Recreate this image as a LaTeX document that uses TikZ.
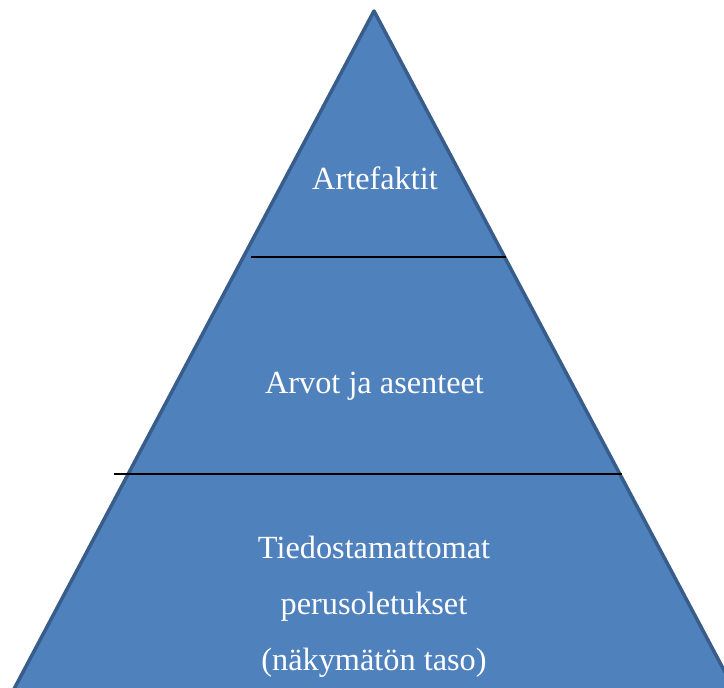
\documentclass[tikz,border=0pt]{standalone}
\usepackage{fontspec}
\setmainfont{Liberation Serif}
\definecolor{layerfill}{HTML}{4F81BD}
\definecolor{layeredge}{HTML}{385D8A}
\tikzset{
  layertext/.style={text=white, font=\fontsize{32.3}{38}\selectfont, anchor=base, inner sep=0pt},
  divider/.style={draw=black, line width=1.6pt}
}
\begin{document}
\begin{tikzpicture}[x=1pt, y=-1pt]
  \useasboundingbox (0,0) rectangle (724,688);
  \clip (0,0) rectangle (724,688);
  % pyramid body
  \coordinate (apex) at (374,11);
  \coordinate (baseL) at (5,706);
  \coordinate (baseR) at (743,706);
  \filldraw[fill=layerfill, draw=layeredge, line width=3.5pt, line join=round]
    (apex) -- (baseR) -- (baseL) -- cycle;
  % layer dividers
  \coordinate (d1L) at (251,257);
  \coordinate (d1R) at (506,257);
  \coordinate (d2L) at (114,474);
  \coordinate (d2R) at (622,474);
  \draw[divider] (d1L) -- (d1R);
  \draw[divider] (d2L) -- (d2R);
  % layer labels
  \node[layertext] (top) at (375,189) {Artefaktit};
  \node[layertext] (mid) at (374.5,393) {Arvot ja asenteet};
  \node[layertext] (bot1) at (374,558) {Tiedostamattomat};
  \node[layertext] (bot2) at (374,614) {perusoletukset};
  \node[layertext] (bot3) at (374,670) {(näkymätön taso)};
\end{tikzpicture}
\end{document}
